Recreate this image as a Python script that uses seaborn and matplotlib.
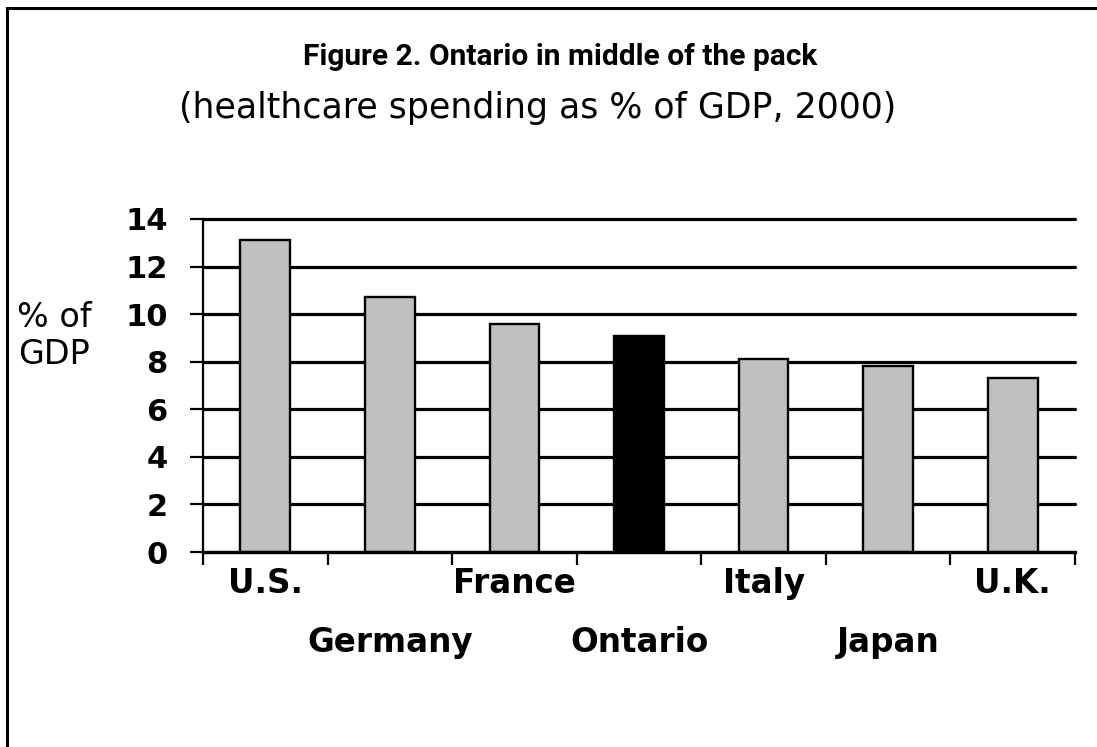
import matplotlib
matplotlib.use("Agg")
import matplotlib.pyplot as plt
from matplotlib.lines import Line2D
import seaborn as sns
import pandas as pd

# Healthcare spending as % of GDP, 2000
countries = ["U.S.", "Germany", "France", "Ontario", "Italy", "Japan", "U.K."]
spending = [13.1, 10.7, 9.6, 9.1, 8.1, 7.8, 7.3]
bar_colors = ["#c0c0c0", "#c0c0c0", "#c0c0c0", "#000000", "#c0c0c0", "#c0c0c0", "#c0c0c0"]
y_ticks = [0, 2, 4, 6, 8, 10, 12, 14]

sns.set_style("white")
plt.rcParams["font.family"] = ["DejaVu Sans"]
plt.rcParams["text.color"] = "black"
plt.rcParams["xtick.color"] = "black"
plt.rcParams["ytick.color"] = "black"
plt.rcParams["axes.labelcolor"] = "black"

W, H = 1097, 747
fig = plt.figure(figsize=(W / 100, H / 100), dpi=100)
fig.patch.set_facecolor("white")

# plot area in pixel terms
left, right, top, bottom = 203, 1075, 219, 552
ax = fig.add_axes([left / W, 1 - bottom / H, (right - left) / W, (bottom - top) / H])

df = pd.DataFrame({"country": countries, "pct": spending})
sns.barplot(
    data=df, x="country", y="pct", hue="country",
    palette=dict(zip(countries, bar_colors)), saturation=1,
    width=0.4, edgecolor="black", linewidth=1.7, legend=False, ax=ax,
)

ax.set_xlim(-0.5, len(countries) - 0.5)
ax.set_ylim(0, 14)
ax.set_xlabel("")
ax.set_ylabel("")

# horizontal grid behind the bars
ax.set_axisbelow(True)
ax.yaxis.grid(True, color="black", linewidth=2.3)
ax.xaxis.grid(False)
for gl in ax.get_ygridlines():
    gl.set_clip_on(False)

for side in ("top", "right"):
    ax.spines[side].set_visible(False)
ax.spines["left"].set_color("black")
ax.spines["left"].set_linewidth(1.6)
ax.spines["bottom"].set_color("black")
ax.spines["bottom"].set_linewidth(2.3)

ax.set_yticks(y_ticks)
ax.set_yticklabels([str(v) for v in y_ticks], fontsize=22, fontweight="bold", color="black")
ax.tick_params(axis="y", direction="out", length=9.5, width=1.6, pad=16, colors="black", left=True)

# category labels in two staggered rows, tick marks between categories
ax.set_xticks(range(len(countries)))
ax.set_xticklabels(countries, fontsize=23.5, fontweight="bold", color="black")
ax.set_xticks([i - 0.5 for i in range(len(countries) + 1)], minor=True)
ax.tick_params(axis="x", which="major", length=0, bottom=True)
ax.tick_params(axis="x", which="minor", direction="out", length=9.5, width=1.6,
               bottom=True, colors="black")
for i, t in enumerate(ax.xaxis.get_major_ticks()):
    t.set_pad(11 if i % 2 == 0 else 53)

fig.text(54 / W, 1 - 336 / H, "% of\nGDP", ha="center", va="center",
         fontsize=24, multialignment="center", linespacing=1.12, color="black")

fig.text(560 / W, 1 - 65 / H, "Figure 2. Ontario in middle of the pack",
         ha="center", va="baseline", fontsize=21.5, fontweight="bold",
         family=["Roboto", "DejaVu Sans"], color="black")
fig.text(538 / W, 1 - 118 / H, "(healthcare spending as % of GDP, 2000)",
         ha="center", va="baseline", fontsize=25, color="black")

# frame around the figure
fx, fy = 7 / W, 1 - 8 / H
fig.add_artist(Line2D([fx, fx], [0, fy], transform=fig.transFigure,
                      color="black", linewidth=2.2, solid_capstyle="projecting"))
fig.add_artist(Line2D([fx, 1], [fy, fy], transform=fig.transFigure,
                      color="black", linewidth=2.2, solid_capstyle="projecting"))

fig.savefig("out.png", dpi=100, facecolor="white")
